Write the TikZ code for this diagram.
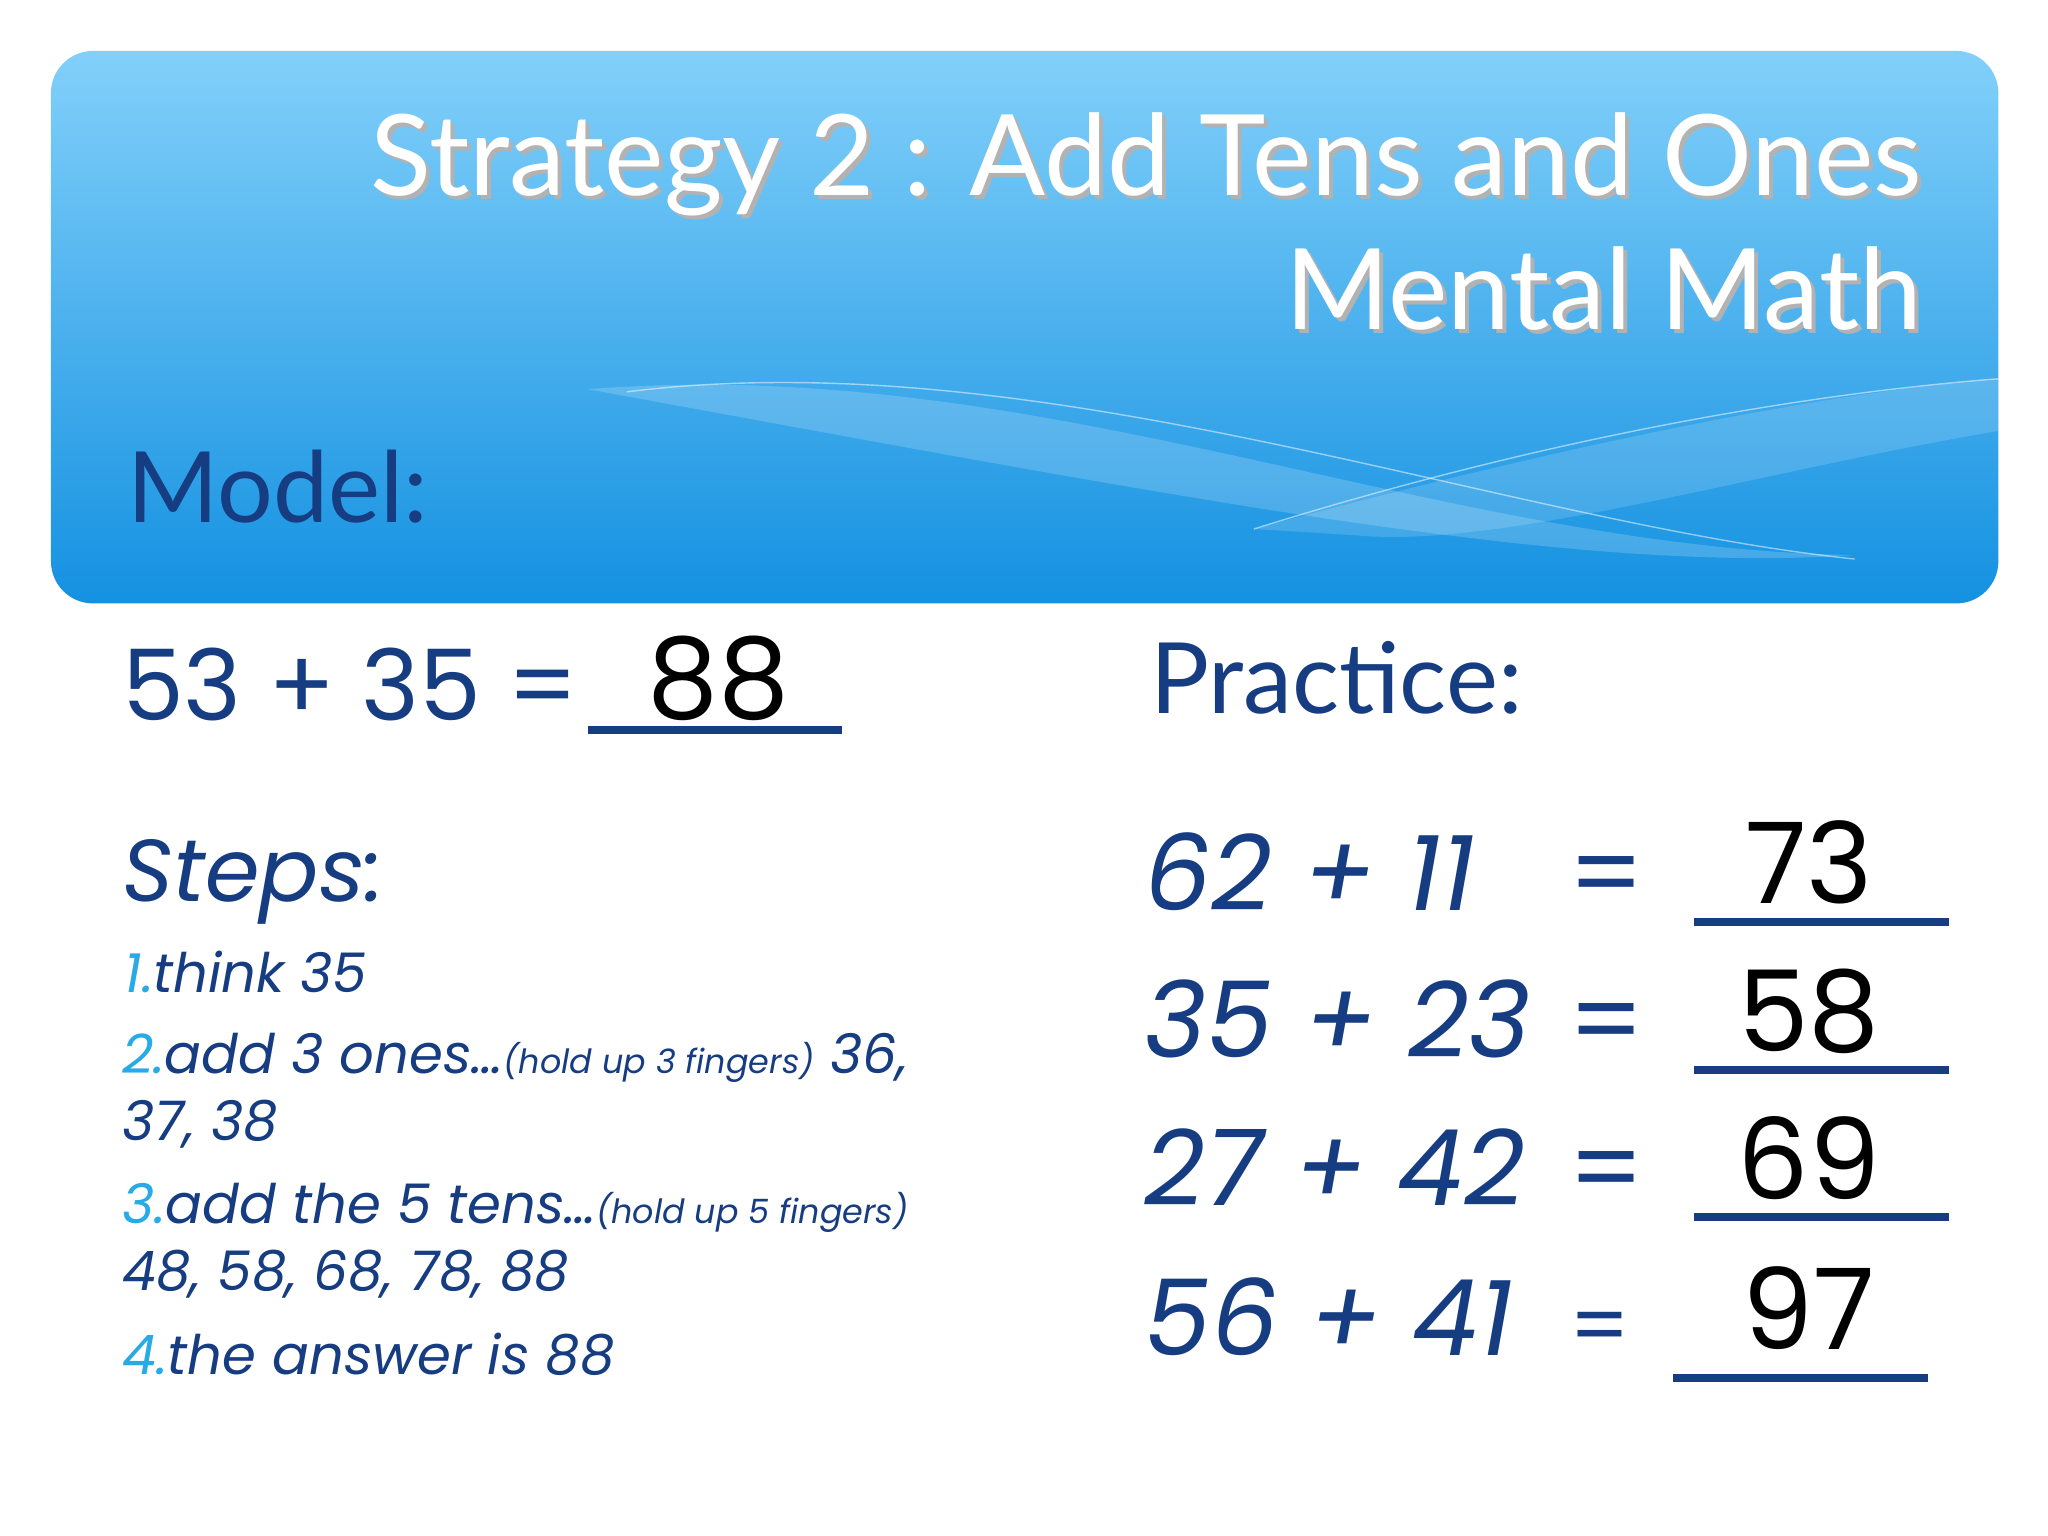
\documentclass[tikz,border=0pt]{standalone}
\usepackage{fontspec}
\setmainfont{Poppins}
\newfontfamily\titlefont{Lato}
\definecolor{dblue}{RGB}{22,60,130}
\definecolor{lblue}{RGB}{40,170,230}
\definecolor{topb}{RGB}{130,208,250}
\definecolor{botb}{RGB}{20,145,225}
\tikzset{
 every node/.style={inner sep=0pt},
 ttl/.style={anchor=base east,text=white,font=\titlefont\fontsize{32}{32}\selectfont},
 eq/.style={anchor=base west,text=dblue,font=\fontsize{28}{28}\selectfont},
 peq/.style={anchor=base west,text=dblue,font=\itshape\fontsize{30}{30}\selectfont},
 ans/.style={anchor=base,text=black,font=\fontsize{32}{32}\selectfont},
 stp/.style={anchor=base west,text=dblue,font=\itshape\fontsize{15.5}{15.5}\selectfont},
 uline/.style={draw=dblue,line width=2.2pt}
}
\begin{document}
\begin{tikzpicture}[x=0.01306cm,y=-0.01306cm]
\useasboundingbox (0,0) rectangle (1568,1176);
\fill[white] (0,0) rectangle (1568,1176);
\shade[top color=topb,bottom color=botb,rounded corners=12pt] (39,39) rectangle (1530,462);
\begin{scope}
\clip[rounded corners=12pt] (39,39) rectangle (1530,462);
\fill[white,opacity=0.18] (450,298) .. controls (800,270) and (1100,420) .. (1420,425) .. controls (1200,440) and (900,380) .. (450,298);
\fill[white,opacity=0.15] (960,405) .. controls (1200,340) and (1400,300) .. (1530,290) -- (1530,330) .. controls (1350,360) and (1150,420) .. (1040,410) -- cycle;
\draw[white,opacity=0.5] (480,300) .. controls (800,260) and (1150,400) .. (1420,428);
\draw[white,opacity=0.5] (960,405) .. controls (1200,330) and (1400,300) .. (1530,290);
\end{scope}
\node[ttl,text=gray!60] (t1s) at (1475,153) {Strategy 2 : Add Tens and Ones};
\node[ttl] (t1) at (1472,150) {Strategy 2 : Add Tens and Ones};
\node[ttl,text=gray!60] (t2s) at (1475,255) {Mental Math};
\node[ttl] (t2) at (1472,252) {Mental Math};
\node[anchor=base west,text=dblue,font=\titlefont\fontsize{28}{28}\selectfont] (model) at (97,400) {Model:};
\node[eq] (meq) at (93,552) {53 + 35 =};
\node[ans] (m88) at (550,550) {88};
\draw[uline] (450,559) -- (645,559);
\node[anchor=base west,text=dblue,font=\titlefont\fontsize{28}{28}\selectfont] (prac) at (880,546) {Practice:};
\node[anchor=base west,text=dblue,font=\itshape\fontsize{25}{25}\selectfont] (steps) at (93,690) {Steps:};
\node[stp] (s1) at (95,760) {\textcolor{lblue}{1.}think 35};
\node[stp] (s2) at (93,822) {\textcolor{lblue}{2.}add 3 ones…{\fontsize{9.5}{9.5}\selectfont(hold up 3 fingers)} 36,};
\node[stp] (s2b) at (93,873) {37, 38};
\node[stp] (s3) at (93,937) {\textcolor{lblue}{3.}add the 5 tens…{\fontsize{9.5}{9.5}\selectfont(hold up 5 fingers)}};
\node[stp] (s3b) at (93,988) {48, 58, 68, 78, 88};
\node[stp] (s4) at (93,1052) {\textcolor{lblue}{4.}the answer is 88};
\foreach \e/\a/\y [count=\i] in {62 + 11/73/697,35 + 23/58/810,27 + 42/69/923}{
 \node[peq] (p\i) at (876,\y) {\e};
 \node[anchor=base,text=dblue,font=\fontsize{30}{30}\selectfont] (q\i) at (1230,\y) {=};
 \node[ans] (a\i) at (1385,\y-5) {\a};
 \draw[uline] (1297,\y+9) -- (1492,\y+9);
}
\node[peq] (p4) at (876,1038) {56 + 41};
\node[anchor=base,text=dblue,font=\fontsize{24}{24}\selectfont] (q4) at (1225,1038) {=};
\node[ans] (a4) at (1385,1033) {97};
\draw[uline] (1281,1055) -- (1476,1055);
\end{tikzpicture}
\end{document}
